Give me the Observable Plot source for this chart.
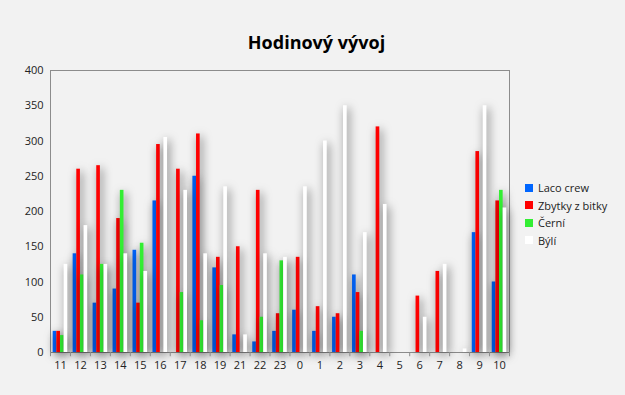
<!DOCTYPE html>
<html>
<head>
<meta charset="utf-8">
<script src="https://cdn.jsdelivr.net/npm/d3@7"></script>
<script src="https://cdn.jsdelivr.net/npm/@observablehq/plot@0.6"></script>
<style>
  body { margin: 0; background: #f2f2f2; }
  #chart { position: relative; width: 625px; height: 395px; background: #f2f2f2; font-family: "Open Sans", "Noto Sans", sans-serif; overflow: hidden; }
  #title { height: 60px; line-height: 84px; text-align: center; font-weight: bold; font-size: 18px; color: #000; padding-left: 8px; box-sizing: border-box; font-family: "Open Sans", sans-serif; }
  #legend { position: absolute; left: 525px; top: 179px; font-size: 11px; color: #222; }
  #legend .item { display: flex; align-items: center; height: 17.5px; }
  #legend .sw { width: 8px; height: 8px; margin-right: 5px; }
  svg g[aria-label="bar"] rect { filter: drop-shadow(2px 3px 5px rgba(0,0,0,0.6)); }
</style>
</head>
<body>
<div id="chart">
  <div id="title">Hodinový vývoj</div>
  <div id="legend"></div>
</div>
<script>
const hours = ["11","12","13","14","15","16","17","18","19","21","22","23","0","1","2","3","4","5","6","7","8","9","10"];
const seriesNames = ["Laco crew", "Zbytky z bitky", "Černí", "Býlí"];
const colors = ["#0066ff", "#ff0000", "#33ee33", "#ffffff"];
const lacoCrew     = [30, 140, 70, 90, 145, 215, 0, 250, 120, 25, 15, 30, 60, 30, 50, 110, 0, 0, 0, 0, 0, 170, 100];
const zbytkyZBitky = [30, 260, 265, 190, 70, 295, 260, 310, 135, 150, 230, 55, 135, 65, 55, 85, 320, 0, 80, 115, 0, 285, 215];
const cerni        = [24, 110, 125, 230, 155, 0, 85, 45, 95, 0, 50, 130, 0, 0, 0, 30, 0, 0, 0, 0, 0, 0, 230];
const byli         = [125, 180, 125, 140, 115, 305, 230, 140, 235, 25, 140, 135, 235, 300, 350, 170, 210, 0, 50, 125, 5, 350, 205];
const yTicks = [0, 50, 100, 150, 200, 250, 300, 350, 400];

const seriesValues = [lacoCrew, zbytkyZBitky, cerni, byli];

const W = 625, H = 335;
const mL = 50, mR = 116, mT = 10, mB = 43;
const band = (W - mL - mR) / hours.length;
const pad = band * 0.135;
const bw = (band - 2 * pad) / 4;

const marks = [];
seriesNames.forEach((name, i) => {
  const data = hours.map((h, j) => ({hour: h, value: seriesValues[i][j]})).filter(d => d.value > 0);
  marks.push(Plot.barY(data, {
    x: "hour", y: "value", fill: colors[i],
    insetLeft: pad + i * bw,
    insetRight: band - pad - (i + 1) * bw
  }));
});

const chart = Plot.plot({
  width: W, height: H,
  marginLeft: mL, marginRight: mR, marginTop: mT, marginBottom: mB,
  style: {background: "transparent", fontFamily: "'Open Sans', 'Noto Sans', sans-serif", fontSize: "11px", color: "#222"},
  x: {domain: hours, padding: 0, round: false, label: null},
  y: {domain: [0, 400], label: null},
  marks: [
    Plot.frame({stroke: "#8c8c8c", strokeWidth: 1}),
    ...marks,
    Plot.ruleX(hours, {x: d => d, dx: -band / 2, y1: 0, y2: -6, stroke: "#8c8c8c"}),
    Plot.ruleX([hours[hours.length - 1]], {x: d => d, dx: band / 2, y1: 0, y2: -6, stroke: "#8c8c8c"}),
    Plot.axisX({tickSize: 0, tickPadding: 9, fill: "#222", fontSize: 11}),
    Plot.axisY({ticks: yTicks, tickSize: 0, tickPadding: 7, fill: "#222", fontSize: 11})
  ]
});
document.getElementById("chart").insertBefore(chart, document.getElementById("legend"));

const legend = document.getElementById("legend");
seriesNames.forEach((name, i) => {
  const it = document.createElement("div");
  it.className = "item";
  const sw = document.createElement("span");
  sw.className = "sw";
  sw.style.background = colors[i];
  const tx = document.createElement("span");
  tx.textContent = name;
  it.appendChild(sw); it.appendChild(tx);
  legend.appendChild(it);
});
</script>
</body>
</html>
